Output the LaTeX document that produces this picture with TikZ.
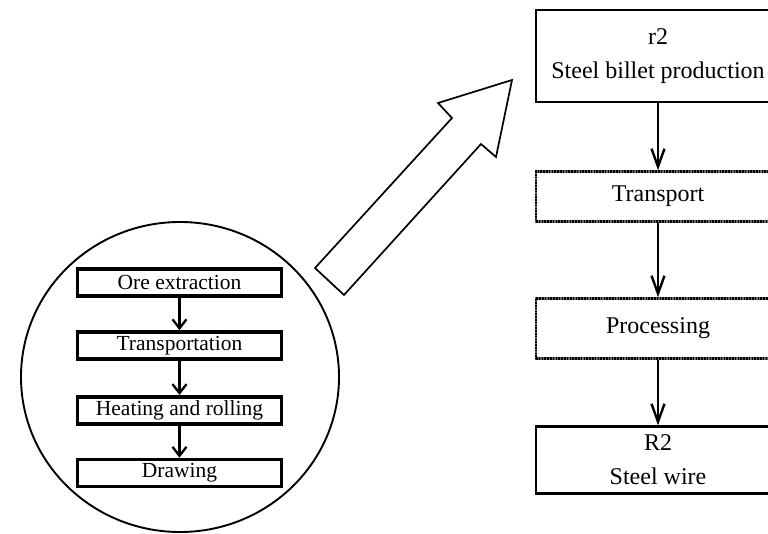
\documentclass[tikz,border=0pt]{standalone}
\usepackage{fontspec}
\setmainfont{Liberation Serif}
\usetikzlibrary{arrows.meta,shapes.geometric}

\begin{document}
\begin{tikzpicture}[x=1pt,y=-1pt,
  smallbox/.style={draw=black, line width=3.6pt, minimum width=204pt, minimum height=27pt,
    inner sep=0pt, font=\fontsize{21.5}{26}\selectfont},
  bigbox/.style={draw=black, line width=2.4pt, minimum width=244pt, inner sep=0pt,
    align=center, font=\fontsize{24}{34}\selectfont},
  hatchbox/.style={bigbox, draw=black!60, line width=2.6pt,
    postaction={draw=black, line width=2.6pt, dash pattern=on 1.6pt off 1.2pt}},
  smallflow/.style={line width=2.3pt, -{Straight Barb[length=9pt,width=14pt,line width=2.3pt]}},
  bigflow/.style={line width=2.4pt, -{Straight Barb[length=18pt,width=13pt,line width=2.4pt]}},
]
\useasboundingbox (0,0) rectangle (768,533);

% lens holding the detailed chain
\node[draw, ellipse, line width=1.9pt, minimum width=318pt, minimum height=310pt, inner sep=0pt]
  (lens) at (180,377) {};

\node[smallbox] (ore)  at (179.5,282.7) {Ore extraction};
\node[smallbox] (tr)   at (179.5,345.5) {Transportation};
\node[smallbox] (heat) at (179.5,410.3) {Heating and rolling};
\node[smallbox] (draw) at (179.5,473.0) {Drawing};

\draw[smallflow] (ore.south)  -- (tr.north);
\draw[smallflow] (tr.south)   -- (heat.north);
\draw[smallflow] (heat.south) -- (draw.north);

% block arrow from the lens to the process chain
\draw[line width=1.7pt, line join=miter, fill=white]
  (315,268) -- (344,295) -- (481,144) -- (496,157) -- (512,80)
  -- (438,103) -- (452,118) -- cycle;

% right-hand process chain
\node[bigbox, minimum height=92pt] (r2) at (658,56)
  {r2\\Steel billet production};
\node[hatchbox, minimum height=50pt] (transport) at (658,196.5) {Transport};
\node[hatchbox, minimum height=60pt] (proc) at (658,328.5) {Processing};
\node[bigbox, minimum height=67pt] (R2) at (658,460)
  {R2\\Steel wire};

\draw[bigflow] (r2.south) -- (transport.north);
\draw[bigflow] (transport.south) -- (proc.north);
\draw[bigflow] (proc.south) -- (R2.north);
\end{tikzpicture}
\end{document}
